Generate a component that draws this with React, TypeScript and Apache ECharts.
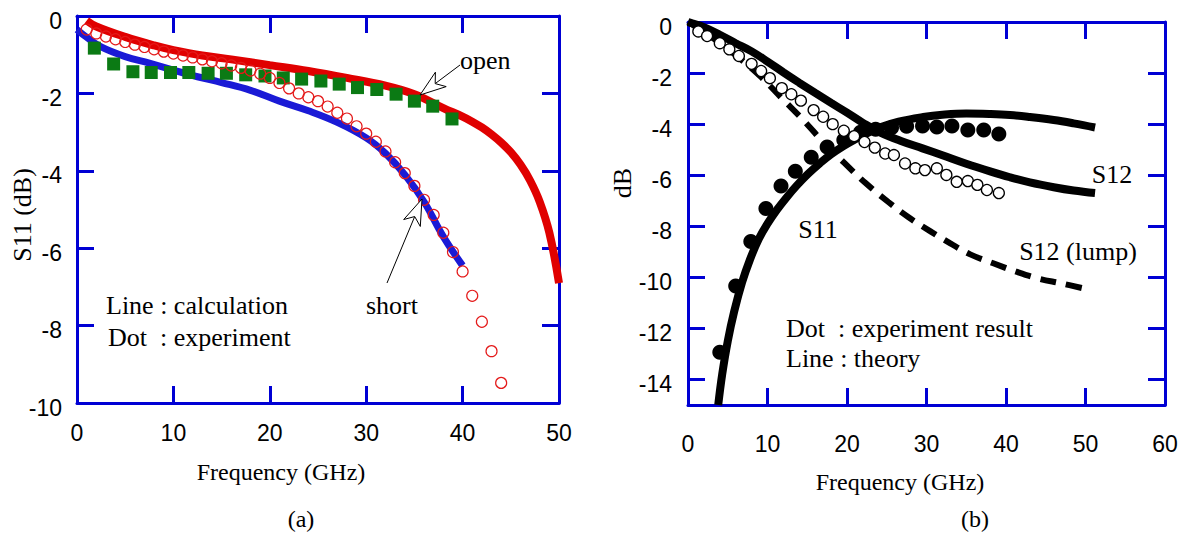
import React, { useEffect, useRef } from "react";
import * as echarts from "echarts";

// ---------- (a) S11 data ----------
const openCalcF = [1, 2, 5, 8, 10, 13, 16, 20, 24, 28, 32, 35, 38, 40, 41, 42, 43, 44, 45, 46, 47, 48, 49, 50];
const openCalc = [-0.12, -0.27, -0.54, -0.76, -0.88, -1.02, -1.12, -1.27, -1.42, -1.6, -1.8, -2.02, -2.38, -2.6, -2.73, -2.88, -3.06, -3.27, -3.52, -3.84, -4.25, -4.8, -5.6, -6.9];

const shortCalcF = [0, 1, 2.5, 5, 7.5, 10, 12.5, 15, 18, 21, 24, 27, 30, 32, 34, 36, 38, 40];
const shortCalc = [-0.35, -0.55, -0.8, -1.05, -1.22, -1.4, -1.57, -1.72, -1.92, -2.2, -2.45, -2.75, -3.15, -3.55, -4.1, -4.8, -5.7, -6.45];

const shortExpF = [1, 2, 3, 4, 5, 6, 7, 8, 9, 10, 11, 12, 13, 14, 15, 16, 17, 18, 19, 20, 21, 22, 23, 24, 25, 26, 27, 28, 29, 30, 31, 32, 33, 34, 35, 36, 37, 38, 39, 40, 41, 42, 43, 44];
const shortExp = [-0.35, -0.45, -0.53, -0.6, -0.67, -0.74, -0.8, -0.86, -0.92, -0.97, -1.02, -1.07, -1.12, -1.17, -1.22, -1.28, -1.34, -1.41, -1.49, -1.6, -1.73, -1.87, -2.0, -2.1, -2.2, -2.34, -2.5, -2.65, -2.85, -3.04, -3.25, -3.5, -3.78, -4.06, -4.39, -4.75, -5.14, -5.6, -6.1, -6.6, -7.23, -7.9, -8.66, -9.48];

const openExpF = [1.8, 3.8, 5.8, 7.7, 9.7, 11.6, 13.6, 15.5, 17.5, 19.5, 21.4, 23.3, 25.3, 27.2, 29.1, 31.1, 33.1, 35, 36.9, 38.9];
const openExp = [-0.83, -1.24, -1.44, -1.46, -1.46, -1.46, -1.48, -1.48, -1.52, -1.55, -1.6, -1.63, -1.68, -1.76, -1.85, -1.9, -2.02, -2.2, -2.33, -2.66];

// ---------- (b) S-parameter data ----------
const s12TheoryF = [0, 0.5, 2, 4, 6, 8, 10, 12, 14, 16, 18, 20, 22, 24, 26.7, 29.5, 32, 35, 38, 40.5, 43, 46, 48.5, 51.2];
const s12Theory = [0, -0.05, -0.2, -0.5, -0.83, -1.15, -1.55, -1.97, -2.38, -2.78, -3.17, -3.55, -3.95, -4.3, -4.65, -4.95, -5.22, -5.55, -5.85, -6.08, -6.28, -6.47, -6.6, -6.7];

const s11TheoryF = [3.8, 4.3, 5, 5.8, 6.8, 7.8, 8.9, 10, 11.2, 12.4, 13.7, 15.1, 16.6, 18, 19.5, 21, 22.5, 24.2, 26.5, 29.6, 32, 35, 38, 40.5, 43, 46, 48.5, 51.2];
const s11Theory = [-15, -13.8, -12.5, -11.35, -10.2, -9.3, -8.5, -7.9, -7.35, -6.87, -6.4, -5.95, -5.53, -5.18, -4.87, -4.6, -4.36, -4.12, -3.9, -3.72, -3.63, -3.58, -3.6, -3.64, -3.72, -3.84, -3.97, -4.13];

const s12LumpF = [0, 3, 6, 9, 12, 14.5, 17, 19.7, 22.3, 25.2, 27.7, 30.5, 33, 35.5, 38.4, 41.3, 44, 47, 50];
const s12Lump = [0, -0.6, -1.3, -2.1, -3.05, -3.84, -4.7, -5.53, -6.3, -7.05, -7.64, -8.2, -8.67, -9.1, -9.45, -9.78, -10.04, -10.24, -10.45];

const s12ExpF = [1.3, 2.4, 4, 5.2, 6.4, 8, 9.2, 10.3, 11.8, 13, 14.2, 15.8, 17, 18.2, 19.6, 20.9, 22.2, 23.5, 24.8, 25.9, 27.3, 28.6, 29.8, 31.3, 32.5, 33.8, 35.2, 36.4, 37.6, 39.1];
const s12Exp = [-0.37, -0.55, -0.83, -1.07, -1.33, -1.64, -1.92, -2.2, -2.59, -2.83, -3.08, -3.45, -3.71, -4.0, -4.26, -4.47, -4.7, -4.92, -5.15, -5.21, -5.54, -5.73, -5.8, -5.73, -5.99, -6.26, -6.23, -6.38, -6.58, -6.7];

const s11ExpF = [4, 6, 7.9, 9.8, 11.7, 13.5, 15.5, 17.5, 19.6, 21.7, 23.6, 25.6, 27.5, 29.5, 31.3, 33.2, 35.2, 37.2, 39.1];
const s11Exp = [-12.93, -10.34, -8.6, -7.3, -6.42, -5.85, -5.3, -4.9, -4.62, -4.32, -4.2, -4.14, -4.08, -4.07, -4.11, -4.07, -4.23, -4.23, -4.39];

const yTicksB = [0, -2, -4, -6, -8, -10, -12, -14];

const zip = (xs: number[], ys: number[]) => xs.map((x, i) => [x, ys[i]]);

const BLUE = "#0000d4";
const SANS = "Liberation Sans, Arial, sans-serif";
const SERIF = "Liberation Serif, Times New Roman, serif";
const NB = "\u00a0";

function arrowGraphics(tip: number[], tail: number[]) {
  const dx = tail[0] - tip[0];
  const dy = tail[1] - tip[1];
  const L = Math.hypot(dx, dy);
  const ux = dx / L, uy = dy / L;
  const px = -uy, py = ux;
  const len = 26, half = 9, notch = 7;
  const bc = [tip[0] + ux * len, tip[1] + uy * len];
  const b1 = [bc[0] + px * half, bc[1] + py * half];
  const b2 = [bc[0] - px * half, bc[1] - py * half];
  const nt = [tip[0] + ux * (len - notch), tip[1] + uy * (len - notch)];
  return [
    { type: "line", shape: { x1: nt[0], y1: nt[1], x2: tail[0], y2: tail[1] }, style: { stroke: "#000", lineWidth: 1 }, z: 100 },
    { type: "polygon", shape: { points: [tip, b1, nt, b2] }, style: { fill: "#fff", stroke: "#000", lineWidth: 1 }, z: 100 },
  ];
}

function txt(text: string, x: number, y: number, size: number, align = "center", font = SERIF, rotation = 0) {
  return {
    type: "text",
    x, y, rotation,
    z: 100,
    style: { text, fill: "#000", fontSize: size, fontFamily: font, textAlign: align, textVerticalAlign: "middle" },
  };
}

function xAxisPair(grid: number, max: number, margin: number) {
  const base = {
    type: "value", gridIndex: grid, min: 0, max, interval: 10,
    axisLine: { show: true, onZero: false, lineStyle: { color: BLUE, width: 3 } },
    axisTick: { show: true, inside: true, length: 17, lineStyle: { color: BLUE, width: 3 } },
    splitLine: { show: false },
  };
  return [
    { ...base, position: "bottom", axisLabel: { show: true, margin, color: "#000", fontSize: 23, fontFamily: SANS } },
    { ...base, position: "top", axisLabel: { show: false } },
  ];
}

function yAxisPair(grid: number, min: number, custom: number[] | null, margin: number) {
  const base: any = {
    type: "value", gridIndex: grid, min, max: 0,
    axisLine: { show: true, onZero: false, lineStyle: { color: BLUE, width: 3 } },
    axisTick: { show: true, inside: true, length: 17, lineStyle: { color: BLUE, width: 3 } },
    splitLine: { show: false },
  };
  if (custom) {
    base.axisTick.customValues = custom;
  } else {
    base.interval = 2;
  }
  const lab: any = { show: true, margin, color: "#000", fontSize: 23, fontFamily: SANS, verticalAlign: "top", lineHeight: 9 };
  if (custom) lab.customValues = custom;
  return [
    { ...base, position: "left", axisLabel: lab },
    { ...base, position: "right", axisLabel: { show: false } },
  ];
}

export default function App() {
  const ref = useRef<HTMLDivElement>(null);
  useEffect(() => {
    if (!ref.current) return;
    const chart = echarts.init(ref.current, null, { renderer: "svg" });
    const option: any = {
      animation: false,
      backgroundColor: "#fff",
      grid: [
        { left: 77, top: 16, width: 482, height: 387 },
        { left: 688, top: 22, width: 477, height: 383 },
      ],
      xAxis: [...xAxisPair(0, 50, 18), ...xAxisPair(1, 60, 27)],
      yAxis: [...yAxisPair(0, -10, null, 15), ...yAxisPair(1, -15, yTicksB, 16)],
      series: [
        // (a)
        { type: "line", xAxisIndex: 0, yAxisIndex: 0, data: zip(openCalcF, openCalc), smooth: 0.4, symbol: "none", lineStyle: { color: "#e00000", width: 8 }, z: 2 },
        { type: "line", xAxisIndex: 0, yAxisIndex: 0, data: zip(shortCalcF, shortCalc), smooth: 0.4, symbol: "none", lineStyle: { color: "#1a1ad6", width: 7 }, z: 2 },
        { type: "scatter", xAxisIndex: 0, yAxisIndex: 0, data: zip(openExpF, openExp), symbol: "rect", symbolSize: 13, itemStyle: { color: "#0b7a14", opacity: 1 }, z: 3 },
        { type: "scatter", xAxisIndex: 0, yAxisIndex: 0, data: zip(shortExpF, shortExp), symbol: "circle", symbolSize: 11, itemStyle: { color: "rgba(0,0,0,0)", borderColor: "#e41a1a", borderWidth: 1.2, opacity: 1 }, z: 4 },
        // (b)
        { type: "line", xAxisIndex: 2, yAxisIndex: 2, data: zip(s12TheoryF, s12Theory), smooth: 0.4, symbol: "none", lineStyle: { color: "#000", width: 8 }, z: 2 },
        { type: "line", xAxisIndex: 2, yAxisIndex: 2, data: zip(s11TheoryF, s11Theory), smooth: 0.4, symbol: "none", lineStyle: { color: "#000", width: 8 }, z: 2 },
        { type: "line", xAxisIndex: 2, yAxisIndex: 2, data: zip(s12LumpF, s12Lump), smooth: 0.4, symbol: "none", lineStyle: { color: "#000", width: 6, type: [16, 10] }, z: 2 },
        { type: "scatter", xAxisIndex: 2, yAxisIndex: 2, data: zip(s11ExpF, s11Exp), symbol: "circle", symbolSize: 15, itemStyle: { color: "#000", opacity: 1 }, z: 3 },
        { type: "scatter", xAxisIndex: 2, yAxisIndex: 2, data: zip(s12ExpF, s12Exp), symbol: "circle", symbolSize: 11, itemStyle: { color: "#fff", borderColor: "#000", borderWidth: 1.3, opacity: 1 }, z: 4 },
      ],
      graphic: [
        // axis titles
        txt("Frequency (GHz)", 281, 472, 24),
        txt("(a)", 301, 519, 24),
        txt("S11 (dB)", 22, 215, 26, "center", SERIF, Math.PI / 2),
        txt("Frequency (GHz)", 900, 482, 24),
        txt("(b)", 975, 519, 24),
        txt("dB", 622, 183, 26, "center", SERIF, Math.PI / 2),
        // (a) annotations
        txt("Line : calculation", 106, 305, 26, "left"),
        txt("Dot" + NB + NB + ": experiment", 108, 337, 26, "left"),
        txt("open", 460, 60, 26, "left"),
        txt("short", 392, 305, 26, "center"),
        ...arrowGraphics([420, 95], [460, 65]),
        ...arrowGraphics([422, 199], [387, 283]),
        // (b) annotations
        txt("S11", 818, 229, 26),
        txt("S12", 1112, 174, 26),
        txt("S12 (lump)", 1078, 251, 26),
        txt("Dot" + NB + NB + ": experiment result", 786, 328, 26, "left"),
        txt("Line : theory", 786, 358, 26, "left"),
      ],
    };
    chart.setOption(option);
    return () => chart.dispose();
  }, []);
  return (
    <div
      ref={ref}
      style={{ position: "fixed", left: 0, top: 0, width: 1184, height: 533, background: "#fff" }}
    />
  );
}
